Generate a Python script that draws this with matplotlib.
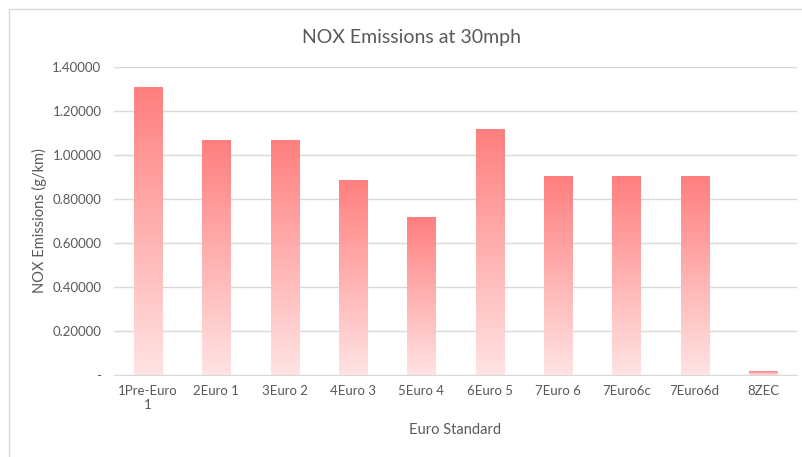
import numpy as np
import matplotlib.pyplot as plt
from matplotlib.patches import Rectangle
from matplotlib.colors import LinearSegmentedColormap

plt.rcParams['font.family'] = ['Lato', 'DejaVu Sans']

categories = ['1Pre-Euro\n1', '2Euro 1', '3Euro 2', '4Euro 3', '5Euro 4',
              '6Euro 5', '7Euro 6', '7Euro6c', '7Euro6d', '8ZEC']
nox = [1.309, 1.064, 1.064, 0.882, 0.718, 1.118, 0.900, 0.900, 0.900, 0.014]
yticks = [0, 0.2, 0.4, 0.6, 0.8, 1.0, 1.2, 1.4]

txt = '#595959'
grad = LinearSegmentedColormap.from_list('g', ['#ffe3e3', '#ff7f7f'])

fig = plt.figure(figsize=(8.02, 4.57), dpi=100)
ax = fig.add_axes([0.142, 0.1794, 0.852, 0.674])

x = np.arange(len(nox))
bars = ax.bar(x, nox, width=0.41, color='none', edgecolor='none')
g = np.linspace(0, 1, 256).reshape(-1, 1)
for b in bars:
    x0, w, h = b.get_x(), b.get_width(), b.get_height()
    ax.imshow(g, cmap=grad, origin='lower', aspect='auto',
              extent=[x0, x0 + w, 0, h], zorder=2)

ax.set_xlim(-0.5, len(nox) - 0.5)
ax.set_ylim(0, 1.4)
ax.set_yticks(yticks)
ax.set_yticklabels(['-' if v == 0 else f'{v:.5f}' for v in yticks])
ax.set_xticks(x)
ax.set_xticklabels(categories)
ax.grid(axis='y', color='#d9d9d9', lw=1, zorder=0)
ax.set_axisbelow(True)
for s in ['top', 'right', 'left']:
    ax.spines[s].set_visible(False)
ax.spines['bottom'].set_color('#d9d9d9')
ax.tick_params(length=0, colors=txt, labelsize=9.5)
ax.tick_params(axis='y', pad=9)
ax.tick_params(axis='x', pad=7)

ax.set_ylabel('NOX Emissions (g/km)', color=txt, fontsize=10.5, labelpad=4)
ax.set_xlabel('Euro Standard', color=txt, fontsize=10.5, labelpad=9)
fig.text(0.513, 0.917, 'NOX Emissions at 30mph', ha='center', va='center',
         color=txt, fontsize=14)

fig.patches.append(Rectangle((9 / 802, -0.1), 1.2, 1 - 9 / 457 + 0.1,
                             transform=fig.transFigure, fill=False,
                             edgecolor='#d9d9d9', lw=1))

fig.savefig('out.png', dpi=100)
